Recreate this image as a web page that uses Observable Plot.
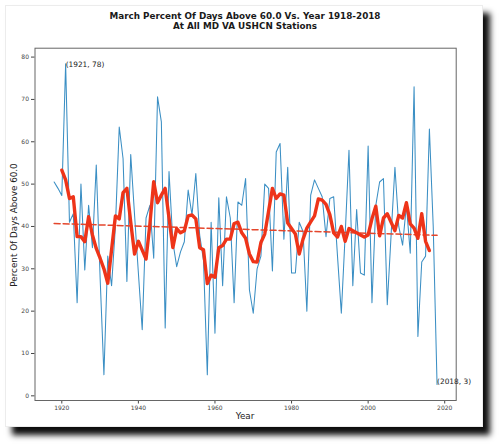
<!DOCTYPE html>
<html>
<head>
<meta charset="utf-8">
<script src="https://cdn.jsdelivr.net/npm/d3@7"></script>
<script src="https://cdn.jsdelivr.net/npm/@observablehq/plot@0.6"></script>
<style>
  html, body { margin: 0; padding: 0; background: #fff; }
  body { width: 500px; height: 447px; position: relative; overflow: hidden; font-family: "DejaVu Sans", sans-serif; }
  #fig { position: absolute; left: 5px; top: 5px; width: 476px; height: 420px; background: #fff;
         border: 1px solid #ececec; box-shadow: 7px 8px 6px rgba(0,0,0,0.95); }
  #title { position: absolute; left: 0; width: 490px; top: 11px; text-align: center; font-weight: bold;
           font-size: 8.8px; line-height: 10px; color: #1a1a1a; }
  #chart { position: absolute; left: 0; top: 40px; }
  #xlabel { position: absolute; left: 245px; top: 416px; transform: translate(-50%, -50%); font-size: 8.8px; color: #222; }
  #ylabel { position: absolute; left: 14px; top: 225px; transform: translate(-50%, -50%) rotate(-90deg); font-size: 8.8px; color: #222; white-space: nowrap; }
</style>
</head>
<body>
<div id="fig"></div>
<div id="title">March Percent Of Days Above 60.0 Vs. Year 1918-2018<br>At All MD VA USHCN Stations</div>
<div id="chart"></div>
<div id="xlabel">Year</div>
<div id="ylabel">Percent Of Days Above 60.0</div>
<script>
// Yearly values, 1918–2018
const firstYear = 1918;
const percentDays = [
  50.5, 49, 47.3, 78.4, 41, 43, 22, 50, 29.7, 45,      // 1918-1927
  35, 54.5, 28, 5, 33, 26, 40, 63.5, 56, 27,           // 1928-1937
  57, 42.7, 29, 15.6, 42, 45, 32.5, 70.6, 64.7, 16,    // 1938-1947
  53, 36.4, 30.5, 34, 36.4, 48.6, 42.7, 52.5, 38, 32,  // 1948-1957
  5, 41, 14.8, 46.8, 26, 47, 42, 22, 45.8, 45,         // 1958-1967
  51.3, 25, 19.5, 30, 33, 50, 49, 29.5, 57.6, 59.6,    // 1968-1977
  37, 54, 29, 29, 41, 38.8, 20, 47.4, 51, 49,          // 1978-1987
  47, 37.6, 46.6, 47, 33, 19.5, 38, 58, 26, 44,        // 1988-1997
  29, 28.5, 59, 22, 45, 50.5, 51.3, 21.5, 38, 54,      // 1998-2007
  40, 35.6, 45, 33.7, 73, 14, 31.6, 33, 63, 40,        // 2008-2017
  2.7                                                  // 2018
];

// Smoothed (running mean) values, 1920–2016
const smoothFirstYear = 1920;
const smoothValues = [
  53.3, 51, 46.6, 47, 37.6, 37.6, 36.4, 42.3, 38, 34.8,   // 1920-1929
  32.5, 30, 26.6, 34.5, 42.5, 41.8, 48, 49, 41, 33.5,     // 1930-1939
  36.5, 34.4, 32.3, 40.5, 50.6, 45.6, 47.4, 49, 42, 35,   // 1940-1949
  39.5, 38.5, 39, 42.5, 42.7, 41.8, 35, 34.5, 26.5, 28.5, // 1950-1959
  28, 35, 35.5, 37, 37, 40.7, 41, 38.5, 37.2, 33.5,       // 1960-1969
  31.7, 31.6, 36.2, 38.2, 43.6, 49, 46.6, 47.7, 47.4, 40.8,// 1970-1979
  39.5, 38.2, 33.5, 37, 39.6, 41.1, 42.5, 46.5, 46.2, 45.2,// 1980-1989
  42.8, 38.5, 37.5, 40, 36.5, 39.5, 39, 38.5, 38, 37.5,   // 1990-1999
  38, 41.8, 44.8, 37.8, 42, 43, 41, 39, 42.6, 42,         // 2000-2009
  45.6, 40.6, 39.6, 37.2, 43, 36.5, 34.3                  // 2010-2016
];

// Linear trend end points
const trendYears = [1918, 2018];
const trendValues = [40.7, 37.9];

// Annotations
const annotYears = [1921, 2018];
const annotValues = [78, 3];
const annotLabels = ["(1921, 78)", "(2018, 3)"];

// Tick labels
const xTicks = [1920, 1940, 1960, 1980, 2000, 2020];
const yTicks = [0, 10, 20, 30, 40, 50, 60, 70, 80];

const raw = percentDays.map((v, i) => ({year: firstYear + i, value: v}));
const smooth = smoothValues.map((v, i) => ({year: smoothFirstYear + i, value: v}));
const trend = trendYears.map((y, i) => ({year: y, value: trendValues[i]}));
const annots = annotYears.map((y, i) => ({year: y, value: annotValues[i], label: annotLabels[i]}));

const chart = Plot.plot({
  width: 480,
  height: 400,
  marginLeft: 34.5,
  marginRight: 24.3,
  marginTop: 7.7,
  marginBottom: 40,
  style: {background: "transparent", fontFamily: "DejaVu Sans", fontSize: "6px", color: "#444", overflow: "visible"},
  x: {domain: [1913, 2023], ticks: xTicks, tickFormat: d => String(d), tickSize: 3.5, tickPadding: 1.5, label: null},
  y: {domain: [-1.1, 82.1], ticks: yTicks, tickSize: 3.5, tickPadding: 2.5, label: null},
  marks: [
    Plot.frame({stroke: "#666", strokeWidth: 1}),
    Plot.line(raw, {x: "year", y: "value", stroke: "#3b8fc4", strokeWidth: 1.05}),
    Plot.line(trend, {x: "year", y: "value", stroke: "#e4462c", strokeWidth: 1.5, strokeDasharray: "6,3"}),
    Plot.line(smooth, {x: "year", y: "value", stroke: "#ee3419", strokeWidth: 3.4, strokeLinejoin: "round"}),
    Plot.text(annots, {x: "year", y: "value", text: "label", textAnchor: "start", lineAnchor: "bottom", fontSize: 7.4, fill: "#222", dy: 1})
  ]
});
document.getElementById("chart").appendChild(chart);
</script>
</body>
</html>
